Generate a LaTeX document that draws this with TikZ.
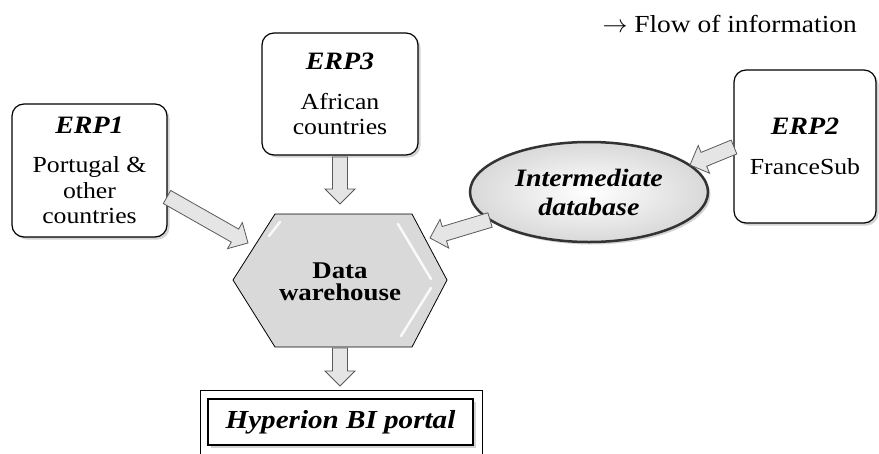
\documentclass[tikz,border=0pt]{standalone}
\usepackage{fontspec}
\setmainfont[FakeStretch=1.12]{Liberation Serif}
\usetikzlibrary{shapes.geometric,shadows,calc}
\newcommand\blockarrow[2]{%
  \draw[barrow] ($(#1)!7.5pt!90:(#2)$) -- ($(#2)!15pt!(#1)!7.5pt!-90:(#1)$)
    -- ($(#2)!15pt!(#1)!15pt!-90:(#1)$) -- (#2)
    -- ($(#2)!15pt!(#1)!15pt!90:(#1)$) -- ($(#2)!15pt!(#1)!7.5pt!90:(#1)$)
    -- ($(#1)!7.5pt!-90:(#2)$) -- cycle;}
\newcommand\erptitle[1]{{\fontsize{25}{25}\selectfont\bfseries\itshape #1}}
\tikzset{
  barrow/.style={draw=black!65, line width=0.8pt, fill=gray!20, line join=miter},
  shad/.style={drop shadow={shadow xshift=2.5pt,shadow yshift=-2.5pt,opacity=.35}},
  erpbox/.style={draw=black, line width=1.2pt, rounded corners=12pt, fill=white,
    align=center, inner sep=0pt, font=\fontsize{23}{25.5}\selectfont, shad},
  hexa/.style={draw=black, line width=0.8pt, fill=gray!30, line join=miter},
  shine/.style={draw=white, line width=2.5pt, line cap=round, opacity=.85},
  dbnode/.style={ellipse, draw=black!80, line width=2.5pt, inner sep=0pt,
    inner color=white, outer color=gray!30, align=center,
    font=\fontsize{25}{29}\selectfont\bfseries\itshape, shad},
  portal/.style={draw=black, line width=1.2pt, fill=white, inner sep=0pt,
    font=\fontsize{26}{26}\selectfont\bfseries\itshape, shad},
  outerbox/.style={draw=black, line width=0.6pt, inner sep=0pt}
}
\begin{document}
\begin{tikzpicture}[x=1pt,y=-1pt]
\useasboundingbox (0,0) rectangle (879,453);
\clip (0,0) rectangle (879,453);
% legend
\node[anchor=base east, inner sep=0pt, font=\fontsize{24.5}{25}\selectfont] (legend) at (857,32)
  {$\rightarrow$ Flow of information};
% ERP boxes
\node[erpbox, minimum width=155pt, minimum height=133pt] (erp1) at (89.5,170.5)
  {\erptitle{ERP1}\\[14pt]Portugal \&\\other\\countries};
\node[erpbox, minimum width=156pt, minimum height=122pt] (erp3) at (340,94)
  {\erptitle{ERP3}\\[14pt]African\\countries};
\node[erpbox, minimum width=142pt, minimum height=153pt] (erp2) at (805,146.5)
  {\erptitle{ERP2}\\[14pt]FranceSub};
% intermediate database
\node[dbnode, minimum width=238pt, minimum height=100pt] (db) at (589,192)
  {Intermediate\\database};
% data warehouse hexagon
\coordinate (h1) at (233,280);
\coordinate (h2) at (275,214);
\coordinate (h3) at (412,214);
\coordinate (h4) at (447,280);
\coordinate (h5) at (412,347);
\coordinate (h6) at (275,347);
\draw[hexa] (h1) -- (h2) -- (h3) -- (h4) -- (h5) -- (h6) -- cycle;
\draw[shine] (398,224) -- (431,279);
\draw[shine] (431,288) -- (401,336);
\draw[shine] (269,236) -- (280,222);
\node[align=center, inner sep=0pt, font=\fontsize{24}{22}\selectfont\bfseries] (dw) at (340,282)
  {Data\\warehouse};
% Hyperion portal
\node[outerbox, minimum width=282pt, minimum height=90pt] (hypout) at (341,435) {};
\node[portal, minimum width=265pt, minimum height=46pt] (hyp) at (340.5,422)
  {Hyperion BI portal};
% arrows
\coordinate (a1s) at (167,197);   \coordinate (a1t) at (248,243);
\coordinate (a3s) at (340,157);   \coordinate (a3t) at (340,204);
\coordinate (a2s) at (734,147);   \coordinate (a2t) at (690,165);
\coordinate (ads) at (490,220);   \coordinate (adt) at (430,238);
\coordinate (aws) at (340,348);   \coordinate (awt) at (340,386);
\blockarrow{a1s}{a1t}
\blockarrow{a3s}{a3t}
\blockarrow{a2s}{a2t}
\blockarrow{ads}{adt}
\blockarrow{aws}{awt}
\end{tikzpicture}
\end{document}
